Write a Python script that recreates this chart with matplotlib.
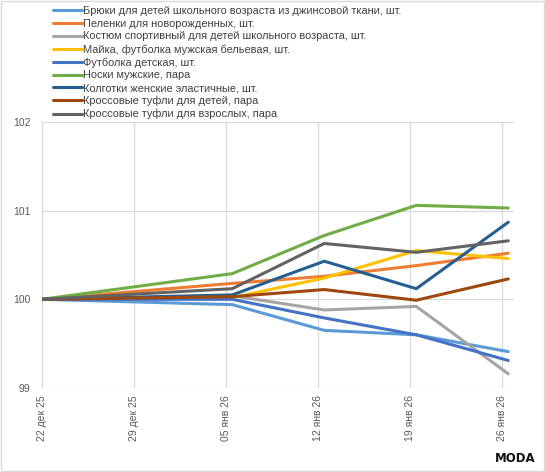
import numpy as np
import pandas as pd
import matplotlib
matplotlib.use('Agg')
import matplotlib.pyplot as plt
from matplotlib.patches import Rectangle

plt.rcParams['font.family'] = ['Liberation Sans', 'DejaVu Sans']

# weeks shown on the axis and the dates that actually carry data
tick_dates = pd.to_datetime(['2025-12-22', '2025-12-29', '2026-01-05',
                             '2026-01-12', '2026-01-19', '2026-01-26'])
tick_labels = ['22 дек 25', '29 дек 25', '05 янв 26',
               '12 янв 26', '19 янв 26', '26 янв 26']
data_dates = pd.to_datetime(['2025-12-22 00:00', '2026-01-05 12:00', '2026-01-12 12:00',
                             '2026-01-19 12:00', '2026-01-26 12:00'])

names = [
    'Брюки для детей школьного возраста из джинсовой ткани, шт.',
    'Пеленки для новорожденных, шт.',
    'Костюм спортивный для детей школьного возраста, шт.',
    'Майка, футболка мужская бельевая, шт.',
    'Футболка детская, шт.',
    'Носки мужские, пара',
    'Колготки женские эластичные, шт.',
    'Кроссовые туфли для детей, пара',
    'Кроссовые туфли для взрослых, пара',
]
bryuki = [100, 99.94, 99.65, 99.60, 99.41]
pelenki = [100, 100.18, 100.26, 100.38, 100.52]
kostyum = [100, 100.04, 99.88, 99.92, 99.16]
mayka = [100, 100.02, 100.24, 100.55, 100.46]
futbolka = [100, 100.00, 99.79, 99.60, 99.31]
noski = [100, 100.29, 100.72, 101.06, 101.03]
kolgotki = [100, 100.05, 100.43, 100.12, 100.87]
kross_deti = [100, 100.03, 100.11, 99.99, 100.23]
kross_vzr = [100, 100.12, 100.63, 100.53, 100.66]
series = [bryuki, pelenki, kostyum, mayka, futbolka,
          noski, kolgotki, kross_deti, kross_vzr]
colors = ['#5B9BD5', '#ED7D31', '#A5A5A5', '#FFC000', '#4472C4',
          '#70AD47', '#255E91', '#9E480E', '#636363']

fig = plt.figure(figsize=(5.45, 4.72), dpi=100)
ax = fig.add_axes([0.0765, 0.178, 0.867, 0.5635])

for vals, name, col in zip(series, names, colors):
    ax.plot(data_dates, vals, color=col, lw=2.2, label=name,
            solid_capstyle='round', solid_joinstyle='round')

ax.set_ylim(99, 102)
ax.set_yticks([99, 100, 101, 102])
ax.set_xlim(tick_dates[0], tick_dates[-1] + pd.Timedelta(days=0.95))
ax.set_xticks(tick_dates)
ax.set_xticklabels(tick_labels, rotation=90, va='top', ha='center')
ax.grid(True, color='#D9D9D9', lw=0.9)
ax.set_axisbelow(True)
for s in ax.spines.values():
    s.set_visible(False)
ax.tick_params(length=0, colors='#595959', labelsize=7.5)
ax.tick_params(axis='y', pad=8)
ax.tick_params(axis='x', pad=5)

fig.legend(loc='upper left', bbox_to_anchor=(0.086, 1.0), frameon=False,
           fontsize=7.9, handlelength=2.65, handletextpad=0.08,
           labelspacing=0.245, borderaxespad=0.15, labelcolor='#404040')

fig.text(0.983, 0.014, 'MODA', ha='right', va='bottom', fontsize=8.5,
         fontweight='bold', family='Liberation Sans Narrow', color='#111111')

fig.patches.append(Rectangle((0.002, 0.002), 0.996, 0.996, transform=fig.transFigure,
                             fill=False, edgecolor='#D9D9D9', lw=1))

fig.savefig('out.png', dpi=100)
